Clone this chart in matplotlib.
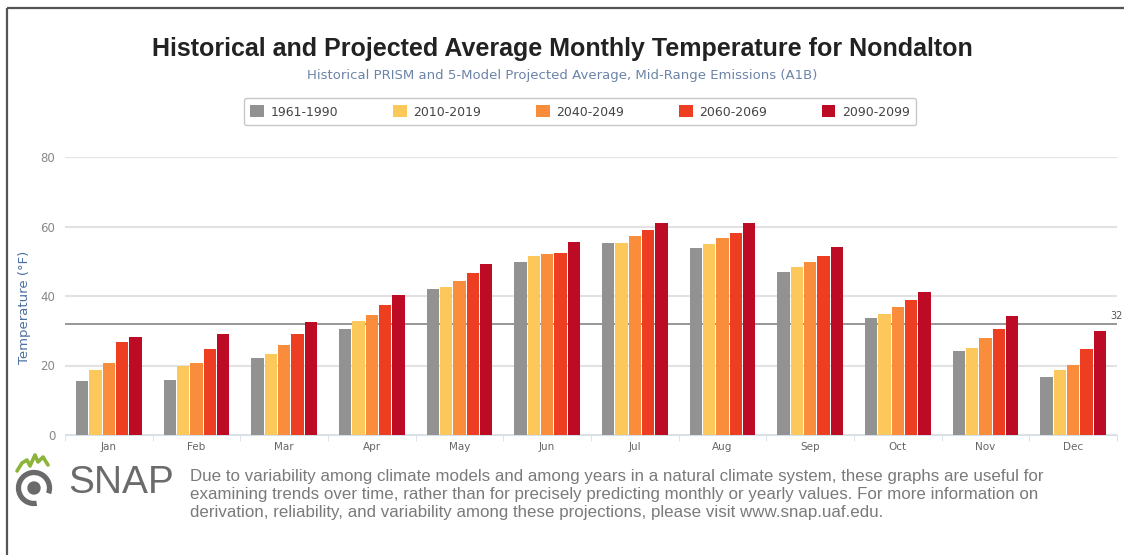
import numpy as np
import matplotlib.pyplot as plt
from matplotlib.patches import Rectangle, Arc, Circle

months = ['Jan', 'Feb', 'Mar', 'Apr', 'May', 'Jun', 'Jul', 'Aug', 'Sep', 'Oct', 'Nov', 'Dec']
periods = ['1961-1990', '2010-2019', '2040-2049', '2060-2069', '2090-2099']
colors = ['#929292', '#fcc85c', '#f98d3b', '#ee3e22', '#bd0a25']

t_1961_1990 = [15.4, 15.9, 22.2, 30.5, 41.9, 49.8, 55.2, 53.8, 47.0, 33.7, 24.1, 16.7]
t_2010_2019 = [18.6, 19.8, 23.4, 32.7, 42.6, 51.4, 55.2, 55.1, 48.4, 34.7, 24.9, 18.7]
t_2040_2049 = [20.6, 20.6, 26.0, 34.5, 44.3, 52.0, 57.3, 56.6, 49.7, 36.8, 28.0, 20.2]
t_2060_2069 = [26.8, 24.8, 29.2, 37.4, 46.7, 52.3, 59.0, 58.1, 51.4, 38.8, 30.6, 24.8]
t_2090_2099 = [28.2, 29.2, 32.6, 40.2, 49.1, 55.4, 61.0, 61.0, 54.2, 41.2, 34.3, 29.9]
series = [t_1961_1990, t_2010_2019, t_2040_2049, t_2060_2069, t_2090_2099]

freezing = 32
yticks = [0, 20, 40, 60, 80]

W, H = 1124, 555
fig = plt.figure(figsize=(W / 100, H / 100), dpi=100)

# background overlay in pixel coords (frame, logo, notes)
bg = fig.add_axes([0, 0, 1, 1], zorder=-1)
bg.set_xlim(0, W)
bg.set_ylim(H, 0)
bg.axis('off')
bg.add_patch(Rectangle((7, 8), W + 20, H + 20, fill=False, edgecolor='#555555', lw=1.6))

# main chart
ax = fig.add_axes([65 / W, 120 / H, (1117 - 65) / W, 278 / H])
ax.patch.set_alpha(0)
x = np.arange(len(months))
slot = 0.152
bw = 0.138
for i, (vals, c, lab) in enumerate(zip(series, colors, periods)):
    ax.bar(x + (i - 2) * slot, vals, width=bw, color=c, label=lab, zorder=3)

ax.set_xlim(-0.5, 11.5)
ax.set_ylim(0, 80)
ax.set_yticks(yticks)
ax.yaxis.grid(True, color='#e2e2e2', lw=1.5, zorder=0)
ax.set_axisbelow(True)
for s in ['top', 'right', 'left']:
    ax.spines[s].set_visible(False)
ax.spines['bottom'].set_color('#d4e0ec')
ax.spines['bottom'].set_linewidth(0.8)
ax.set_xticks(np.arange(-0.5, 12, 1), minor=True)
ax.set_xticks(x)
ax.set_xticklabels(months)
ax.tick_params(axis='x', which='major', length=0, labelsize=7.5, labelcolor='#666666', pad=5)
ax.tick_params(axis='x', which='minor', length=4, color='#d4e0ec')
ax.tick_params(axis='y', length=0, labelsize=8.5, labelcolor='#888888', pad=7)
ax.set_ylabel('Temperature (°F)', color='#4a6fa0', fontsize=9.5)
ax.yaxis.set_label_coords(-0.032, 0.46)

ax.axhline(freezing, color='#7a7a7a', lw=1.1, zorder=2)
bg.text(1110, 321, '32', ha='left', va='bottom', fontsize=7, color='#555555')

# titles
fig.text(0.5, 1 - 49 / H, 'Historical and Projected Average Monthly Temperature for Nondalton',
         ha='center', va='center', fontsize=18, family='Liberation Sans', weight='bold', color='#222222')
fig.text(0.5, 1 - 76 / H, 'Historical PRISM and 5-Model Projected Average, Mid-Range Emissions (A1B)',
         ha='center', va='center', fontsize=9.5, color='#6c84a8')

leg = fig.legend(loc='center', bbox_to_anchor=(580 / W, 1 - 112 / H), ncol=5, fontsize=9,
                 frameon=True, fancybox=True, edgecolor='#bbbbbb', handlelength=1.1, handleheight=1.1,
                 handletextpad=0.5, columnspacing=4.4, borderpad=0.55)
for t in leg.get_texts():
    t.set_color('#444444')
leg.get_frame().set_linewidth(1.0)

# SNAP logo
bg.add_patch(Arc((34, 488), 31, 31, theta1=80, theta2=380, color='#6a6a6a', lw=3.8))
bg.add_patch(Circle((34, 488), 6, color='#6a6a6a'))
bg.plot([17, 22, 27, 30, 35, 38, 43, 48], [471, 463, 460, 466, 455, 462, 457, 465], color='#8cb33a', lw=2.6,
        solid_capstyle='round', solid_joinstyle='round')
bg.text(68, 483, 'SNAP', fontsize=28, family='Liberation Sans', color='#6b6b6b', va='center', ha='left')

note = ('Due to variability among climate models and among years in a natural climate system, these graphs are useful for\n'
        'examining trends over time, rather than for precisely predicting monthly or yearly values. For more information on\n'
        'derivation, reliability, and variability among these projections, please visit www.snap.uaf.edu.')
bg.text(190, 469, note, fontsize=12.2, family='Liberation Sans', color='#7a7a7a',
        va='top', ha='left', linespacing=1.27)

fig.savefig('out.png', dpi=100)
